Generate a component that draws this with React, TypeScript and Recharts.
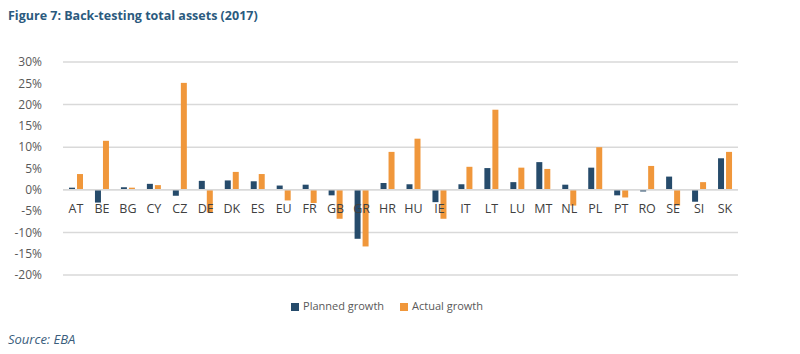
import React from "react";
import { BarChart, Bar, XAxis, YAxis, CartesianGrid, Legend, ReferenceLine } from "recharts";

const countries = ["AT", "BE", "BG", "CY", "CZ", "DE", "DK", "ES", "EU", "FR", "GB", "GR", "HR", "HU", "IE", "IT", "LT", "LU", "MT", "NL", "PL", "PT", "RO", "SE", "SI", "SK"];
const planned = [0.5, -3.0, 0.6, 1.4, -1.4, 2.1, 2.2, 2.0, 1.0, 1.2, -1.3, -11.5, 1.6, 1.3, -2.9, 1.3, 5.1, 1.8, 6.5, 1.2, 5.2, -1.3, -0.4, 3.1, -2.8, 7.4];
const actual = [3.7, 11.5, 0.5, 1.1, 25.1, -5.3, 4.2, 3.7, -2.5, -3.1, -6.8, -13.3, 8.9, 12.0, -6.8, 5.4, 18.8, 5.2, 4.9, -3.7, 10.0, -1.8, 5.6, -3.7, 1.8, 8.9];
const yTicks = [-20, -15, -10, -5, 0, 5, 10, 15, 20, 25, 30];
const seriesOrder = ["Planned growth", "Actual growth"];

const data = countries.map((c, i) => ({ country: c, planned: planned[i], actual: actual[i] }));

const FONT = "'Open Sans', sans-serif";
const PLOT_TOP = 62;
const PLOT_BOTTOM = 276;

// x labels sit right under the 0% line, like in Excel
const CountryTick = (props: any) => {
	const { x, payload } = props;
	const zeroY = PLOT_TOP + ((PLOT_BOTTOM - PLOT_TOP) * 30) / 50;
	return (
		<text x={x} y={zeroY + 23} textAnchor="middle" fill="#404040" fontSize={12.5} fontFamily={FONT}>
			{payload.value}
		</text>
	);
};

export default function App() {
	return (
		<div style={{ position: "absolute", left: 0, top: 0, width: 800, height: 354, background: "#fff" }}>
			<div style={{ position: "absolute", left: 8, top: 7, fontFamily: FONT, fontWeight: 700, fontSize: 12.5, color: "#2b5a7e" }}>
				Figure 7: Back-testing total assets (2017)
			</div>
			<BarChart
				width={800}
				height={330}
				data={data}
				margin={{ top: PLOT_TOP, right: 62, left: 0, bottom: 17 }}
				barGap={2}
				barSize={6}>
				<CartesianGrid vertical={false} stroke="#d9d9d9" strokeWidth={1.5} />
				<XAxis dataKey="country" axisLine={false} tickLine={false} tick={<CountryTick />} height={23} interval={0} />
				<YAxis
					width={63}
					domain={[-20, 30]}
					ticks={yTicks}
					tickFormatter={(v: number) => `${v}%`}
					axisLine={false}
					tickLine={false}
					tick={{ fill: "#595959", fontSize: 12, fontFamily: FONT }}
					tickMargin={15}
				/>
				<ReferenceLine y={0} stroke="#d9d9d9" strokeWidth={1.5} />
				<Legend
					verticalAlign="bottom"
					iconType="square"
					iconSize={8}
					itemSorter={(item: any) => seriesOrder.indexOf(item.value)}
					wrapperStyle={{ fontFamily: FONT, fontSize: 11, color: "#595959", paddingLeft: 26 }}
					formatter={(v: string) => <span style={{ color: "#595959", marginRight: 6 }}>{v}</span>}
				/>
				<Bar dataKey="planned" name="Planned growth" fill="#264b6b" isAnimationActive={false} />
				<Bar dataKey="actual" name="Actual growth" fill="#f0973b" isAnimationActive={false} />
			</BarChart>
			<div style={{ position: "absolute", left: 8, top: 330, fontFamily: FONT, fontStyle: "italic", fontSize: 13, color: "#3a5d7c" }}>
				Source: EBA
			</div>
		</div>
	);
}
